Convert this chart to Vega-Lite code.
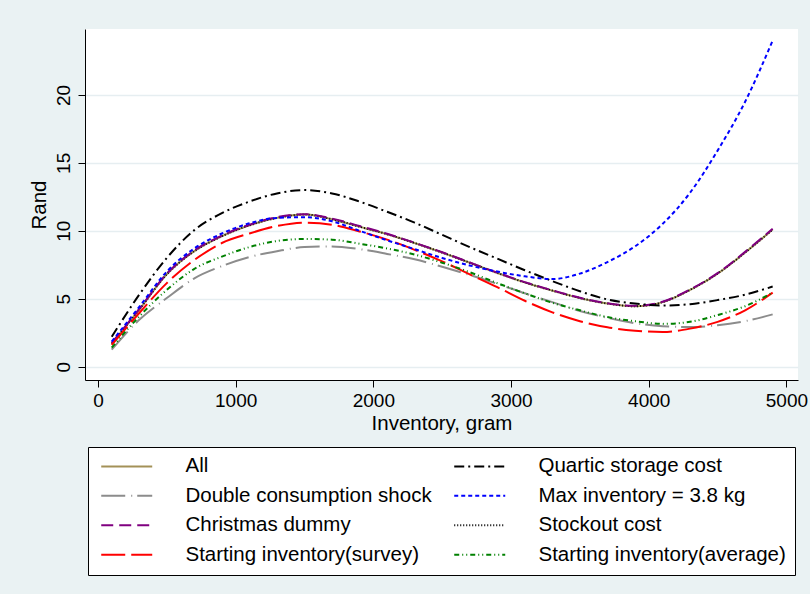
{
  "$schema": "https://vega.github.io/schema/vega-lite/v6.json",
  "width": 713,
  "height": 351,
  "autosize": {"type": "none"},
  "padding": {"left": 85, "top": 29, "right": 12, "bottom": 214},
  "background": "#EAF2F3",
  "config": {
    "view": {"fill": "white", "stroke": null},
    "font": "Liberation Sans",
    "axis": {
      "domainColor": "black", "domainWidth": 1, "tickColor": "black", "tickWidth": 1, "tickSize": 7,
      "labelFont": "Liberation Sans", "labelFontSize": 19, "labelColor": "black",
      "titleFont": "Liberation Sans", "titleFontSize": 20.5, "titleFontWeight": "normal", "titleColor": "black",
      "gridColor": "#E6EEF1", "gridWidth": 1.3, "labelFlush": false, "labelOverlap": false
    }
  },
  "data": {"values": [
    {"x":100,"y":1.7,"s":"All"},{"x":300,"y":4.2,"s":"All"},{"x":500,"y":6.8,"s":"All"},{"x":700,"y":8.5,"s":"All"},{"x":900,"y":9.6,"s":"All"},{"x":1100,"y":10.4,"s":"All"},{"x":1300,"y":10.95,"s":"All"},{"x":1500,"y":11.2,"s":"All"},{"x":1700,"y":10.85,"s":"All"},{"x":1900,"y":10.3,"s":"All"},{"x":2100,"y":9.75,"s":"All"},{"x":2300,"y":9.1,"s":"All"},{"x":2500,"y":8.4,"s":"All"},{"x":2700,"y":7.65,"s":"All"},{"x":2900,"y":6.9,"s":"All"},{"x":3100,"y":6.2,"s":"All"},{"x":3300,"y":5.6,"s":"All"},{"x":3500,"y":5.05,"s":"All"},{"x":3700,"y":4.65,"s":"All"},{"x":3900,"y":4.45,"s":"All"},{"x":4100,"y":4.75,"s":"All"},{"x":4300,"y":5.65,"s":"All"},{"x":4500,"y":6.85,"s":"All"},{"x":4700,"y":8.4,"s":"All"},{"x":4900,"y":10.1,"s":"All"},
    {"x":100,"y":1.7,"s":"Stockout cost"},{"x":300,"y":4.2,"s":"Stockout cost"},{"x":500,"y":6.8,"s":"Stockout cost"},{"x":700,"y":8.5,"s":"Stockout cost"},{"x":900,"y":9.6,"s":"Stockout cost"},{"x":1100,"y":10.4,"s":"Stockout cost"},{"x":1300,"y":10.95,"s":"Stockout cost"},{"x":1500,"y":11.2,"s":"Stockout cost"},{"x":1700,"y":10.85,"s":"Stockout cost"},{"x":1900,"y":10.3,"s":"Stockout cost"},{"x":2100,"y":9.75,"s":"Stockout cost"},{"x":2300,"y":9.1,"s":"Stockout cost"},{"x":2500,"y":8.4,"s":"Stockout cost"},{"x":2700,"y":7.65,"s":"Stockout cost"},{"x":2900,"y":6.9,"s":"Stockout cost"},{"x":3100,"y":6.2,"s":"Stockout cost"},{"x":3300,"y":5.6,"s":"Stockout cost"},{"x":3500,"y":5.05,"s":"Stockout cost"},{"x":3700,"y":4.65,"s":"Stockout cost"},{"x":3900,"y":4.45,"s":"Stockout cost"},{"x":4100,"y":4.75,"s":"Stockout cost"},{"x":4300,"y":5.65,"s":"Stockout cost"},{"x":4500,"y":6.85,"s":"Stockout cost"},{"x":4700,"y":8.4,"s":"Stockout cost"},{"x":4900,"y":10.1,"s":"Stockout cost"},
    {"x":100,"y":1.75,"s":"Christmas dummy"},{"x":300,"y":4.25,"s":"Christmas dummy"},{"x":500,"y":6.85,"s":"Christmas dummy"},{"x":700,"y":8.55,"s":"Christmas dummy"},{"x":900,"y":9.65,"s":"Christmas dummy"},{"x":1100,"y":10.45,"s":"Christmas dummy"},{"x":1300,"y":11.0,"s":"Christmas dummy"},{"x":1500,"y":11.22,"s":"Christmas dummy"},{"x":1700,"y":10.9,"s":"Christmas dummy"},{"x":1900,"y":10.35,"s":"Christmas dummy"},{"x":2100,"y":9.78,"s":"Christmas dummy"},{"x":2300,"y":9.12,"s":"Christmas dummy"},{"x":2500,"y":8.42,"s":"Christmas dummy"},{"x":2700,"y":7.67,"s":"Christmas dummy"},{"x":2900,"y":6.92,"s":"Christmas dummy"},{"x":3100,"y":6.22,"s":"Christmas dummy"},{"x":3300,"y":5.62,"s":"Christmas dummy"},{"x":3500,"y":5.07,"s":"Christmas dummy"},{"x":3700,"y":4.67,"s":"Christmas dummy"},{"x":3900,"y":4.48,"s":"Christmas dummy"},{"x":4100,"y":4.78,"s":"Christmas dummy"},{"x":4300,"y":5.68,"s":"Christmas dummy"},{"x":4500,"y":6.88,"s":"Christmas dummy"},{"x":4700,"y":8.45,"s":"Christmas dummy"},{"x":4900,"y":10.15,"s":"Christmas dummy"},
    {"x":100,"y":1.25,"s":"Double consumption shock"},{"x":300,"y":3.45,"s":"Double consumption shock"},{"x":500,"y":5.05,"s":"Double consumption shock"},{"x":700,"y":6.5,"s":"Double consumption shock"},{"x":900,"y":7.4,"s":"Double consumption shock"},{"x":1100,"y":8.07,"s":"Double consumption shock"},{"x":1300,"y":8.5,"s":"Double consumption shock"},{"x":1500,"y":8.8,"s":"Double consumption shock"},{"x":1700,"y":8.85,"s":"Double consumption shock"},{"x":1900,"y":8.65,"s":"Double consumption shock"},{"x":2100,"y":8.3,"s":"Double consumption shock"},{"x":2300,"y":7.9,"s":"Double consumption shock"},{"x":2500,"y":7.35,"s":"Double consumption shock"},{"x":2700,"y":6.75,"s":"Double consumption shock"},{"x":2900,"y":6.1,"s":"Double consumption shock"},{"x":3100,"y":5.4,"s":"Double consumption shock"},{"x":3300,"y":4.75,"s":"Double consumption shock"},{"x":3500,"y":4.1,"s":"Double consumption shock"},{"x":3700,"y":3.6,"s":"Double consumption shock"},{"x":3900,"y":3.2,"s":"Double consumption shock"},{"x":4100,"y":2.98,"s":"Double consumption shock"},{"x":4300,"y":2.92,"s":"Double consumption shock"},{"x":4500,"y":3.05,"s":"Double consumption shock"},{"x":4700,"y":3.35,"s":"Double consumption shock"},{"x":4900,"y":3.85,"s":"Double consumption shock"},
    {"x":100,"y":1.6,"s":"Starting inventory(survey)"},{"x":300,"y":3.95,"s":"Starting inventory(survey)"},{"x":500,"y":6.15,"s":"Starting inventory(survey)"},{"x":700,"y":7.85,"s":"Starting inventory(survey)"},{"x":900,"y":9.1,"s":"Starting inventory(survey)"},{"x":1100,"y":9.8,"s":"Starting inventory(survey)"},{"x":1300,"y":10.35,"s":"Starting inventory(survey)"},{"x":1500,"y":10.6,"s":"Starting inventory(survey)"},{"x":1700,"y":10.45,"s":"Starting inventory(survey)"},{"x":1900,"y":9.95,"s":"Starting inventory(survey)"},{"x":2100,"y":9.35,"s":"Starting inventory(survey)"},{"x":2300,"y":8.6,"s":"Starting inventory(survey)"},{"x":2500,"y":7.75,"s":"Starting inventory(survey)"},{"x":2700,"y":6.8,"s":"Starting inventory(survey)"},{"x":2900,"y":5.85,"s":"Starting inventory(survey)"},{"x":3100,"y":4.85,"s":"Starting inventory(survey)"},{"x":3300,"y":4.0,"s":"Starting inventory(survey)"},{"x":3500,"y":3.35,"s":"Starting inventory(survey)"},{"x":3700,"y":2.9,"s":"Starting inventory(survey)"},{"x":3900,"y":2.65,"s":"Starting inventory(survey)"},{"x":4100,"y":2.55,"s":"Starting inventory(survey)"},{"x":4300,"y":2.8,"s":"Starting inventory(survey)"},{"x":4500,"y":3.3,"s":"Starting inventory(survey)"},{"x":4700,"y":4.15,"s":"Starting inventory(survey)"},{"x":4900,"y":5.45,"s":"Starting inventory(survey)"},
    {"x":100,"y":1.4,"s":"Starting inventory(average)"},{"x":300,"y":3.7,"s":"Starting inventory(average)"},{"x":500,"y":5.65,"s":"Starting inventory(average)"},{"x":700,"y":7.2,"s":"Starting inventory(average)"},{"x":900,"y":8.1,"s":"Starting inventory(average)"},{"x":1100,"y":8.8,"s":"Starting inventory(average)"},{"x":1300,"y":9.25,"s":"Starting inventory(average)"},{"x":1500,"y":9.4,"s":"Starting inventory(average)"},{"x":1700,"y":9.35,"s":"Starting inventory(average)"},{"x":1900,"y":9.05,"s":"Starting inventory(average)"},{"x":2100,"y":8.7,"s":"Starting inventory(average)"},{"x":2300,"y":8.25,"s":"Starting inventory(average)"},{"x":2500,"y":7.65,"s":"Starting inventory(average)"},{"x":2700,"y":6.95,"s":"Starting inventory(average)"},{"x":2900,"y":6.15,"s":"Starting inventory(average)"},{"x":3100,"y":5.4,"s":"Starting inventory(average)"},{"x":3300,"y":4.7,"s":"Starting inventory(average)"},{"x":3500,"y":4.15,"s":"Starting inventory(average)"},{"x":3700,"y":3.65,"s":"Starting inventory(average)"},{"x":3900,"y":3.35,"s":"Starting inventory(average)"},{"x":4100,"y":3.15,"s":"Starting inventory(average)"},{"x":4300,"y":3.3,"s":"Starting inventory(average)"},{"x":4500,"y":3.8,"s":"Starting inventory(average)"},{"x":4700,"y":4.45,"s":"Starting inventory(average)"},{"x":4900,"y":5.45,"s":"Starting inventory(average)"},
    {"x":100,"y":2.2,"s":"Quartic storage cost"},{"x":300,"y":5.3,"s":"Quartic storage cost"},{"x":500,"y":8.0,"s":"Quartic storage cost"},{"x":700,"y":10.05,"s":"Quartic storage cost"},{"x":900,"y":11.3,"s":"Quartic storage cost"},{"x":1100,"y":12.15,"s":"Quartic storage cost"},{"x":1300,"y":12.75,"s":"Quartic storage cost"},{"x":1500,"y":13.0,"s":"Quartic storage cost"},{"x":1700,"y":12.75,"s":"Quartic storage cost"},{"x":1900,"y":12.15,"s":"Quartic storage cost"},{"x":2100,"y":11.4,"s":"Quartic storage cost"},{"x":2300,"y":10.6,"s":"Quartic storage cost"},{"x":2500,"y":9.7,"s":"Quartic storage cost"},{"x":2700,"y":8.8,"s":"Quartic storage cost"},{"x":2900,"y":7.95,"s":"Quartic storage cost"},{"x":3100,"y":7.1,"s":"Quartic storage cost"},{"x":3300,"y":6.3,"s":"Quartic storage cost"},{"x":3500,"y":5.55,"s":"Quartic storage cost"},{"x":3700,"y":4.95,"s":"Quartic storage cost"},{"x":3900,"y":4.65,"s":"Quartic storage cost"},{"x":4100,"y":4.5,"s":"Quartic storage cost"},{"x":4300,"y":4.6,"s":"Quartic storage cost"},{"x":4500,"y":4.9,"s":"Quartic storage cost"},{"x":4700,"y":5.3,"s":"Quartic storage cost"},{"x":4900,"y":5.9,"s":"Quartic storage cost"},
    {"x":100,"y":1.85,"s":"Max inventory = 3.8 kg"},{"x":300,"y":4.4,"s":"Max inventory = 3.8 kg"},{"x":500,"y":7.0,"s":"Max inventory = 3.8 kg"},{"x":700,"y":8.7,"s":"Max inventory = 3.8 kg"},{"x":900,"y":9.8,"s":"Max inventory = 3.8 kg"},{"x":1100,"y":10.55,"s":"Max inventory = 3.8 kg"},{"x":1300,"y":10.95,"s":"Max inventory = 3.8 kg"},{"x":1500,"y":11.0,"s":"Max inventory = 3.8 kg"},{"x":1700,"y":10.7,"s":"Max inventory = 3.8 kg"},{"x":1900,"y":10.0,"s":"Max inventory = 3.8 kg"},{"x":2100,"y":9.3,"s":"Max inventory = 3.8 kg"},{"x":2300,"y":8.65,"s":"Max inventory = 3.8 kg"},{"x":2500,"y":8.0,"s":"Max inventory = 3.8 kg"},{"x":2700,"y":7.45,"s":"Max inventory = 3.8 kg"},{"x":2900,"y":7.0,"s":"Max inventory = 3.8 kg"},{"x":3100,"y":6.65,"s":"Max inventory = 3.8 kg"},{"x":3300,"y":6.45,"s":"Max inventory = 3.8 kg"},{"x":3500,"y":6.85,"s":"Max inventory = 3.8 kg"},{"x":3700,"y":7.7,"s":"Max inventory = 3.8 kg"},{"x":3900,"y":8.85,"s":"Max inventory = 3.8 kg"},{"x":4100,"y":10.5,"s":"Max inventory = 3.8 kg"},{"x":4300,"y":12.8,"s":"Max inventory = 3.8 kg"},{"x":4500,"y":15.9,"s":"Max inventory = 3.8 kg"},{"x":4700,"y":19.5,"s":"Max inventory = 3.8 kg"},{"x":4900,"y":24.0,"s":"Max inventory = 3.8 kg"}
  ]},
  "mark": {"type": "line", "strokeWidth": 2, "interpolate": "monotone"},
  "encoding": {
    "x": {"field": "x", "type": "quantitative",
      "scale": {"domain": [-94, 5084], "nice": false, "zero": false},
      "axis": {"values": [0, 1000, 2000, 3000, 4000, 5000], "title": "Inventory, gram", "grid": false, "labelPadding": 4, "titlePadding": 3, "format": "d"}},
    "y": {"field": "y", "type": "quantitative",
      "scale": {"domain": [-0.98, 24.85], "nice": false, "zero": false},
      "axis": {"values": [0, 5, 10, 15, 20], "title": "Rand", "grid": true, "labelAngle": -90, "labelAlign": "center", "labelBaseline": "alphabetic", "labelPadding": 9, "titlePadding": 5}},
    "color": {"field": "s", "type": "nominal",
      "scale": {
        "domain": ["All", "Double consumption shock", "Christmas dummy", "Starting inventory(survey)", "Quartic storage cost", "Max inventory = 3.8 kg", "Stockout cost", "Starting inventory(average)"],
        "range": ["#A39157", "#8C8C8C", "#800080", "#FF0000", "#000000", "#0000FF", "#000000", "#008000"]},
      "legend": {"title": null, "orient": "none", "legendX": 3, "legendY": 418, "columns": 2, "symbolType": "M-1.18,0H8.82", "symbolSize": 104, "symbolStrokeWidth": 2, "labelFont": "Liberation Sans", "labelFontSize": 20.5, "labelColor": "black", "labelOffset": 68, "labelLimit": 0, "rowPadding": 8.5, "columnPadding": 18, "padding": 9, "strokeColor": "black", "fillColor": "white"}},
    "strokeDash": {"field": "s", "type": "nominal",
      "scale": {
        "domain": ["All", "Double consumption shock", "Christmas dummy", "Starting inventory(survey)", "Quartic storage cost", "Max inventory = 3.8 kg", "Stockout cost", "Starting inventory(average)"],
        "range": [[1, 0], [24, 6, 1, 5], [12, 6], [24, 6], [10, 4, 2, 4], [4, 3], [1, 2], [5, 3, 1, 3, 1, 3]]},
      "legend": {"title": null, "orient": "none", "legendX": 3, "legendY": 418, "columns": 2, "symbolType": "M-1.18,0H8.82", "symbolSize": 104, "symbolStrokeWidth": 2, "labelFont": "Liberation Sans", "labelFontSize": 20.5, "labelColor": "black", "labelOffset": 68, "labelLimit": 0, "rowPadding": 8.5, "columnPadding": 18, "padding": 9, "strokeColor": "black", "fillColor": "white"}}
  }
}
